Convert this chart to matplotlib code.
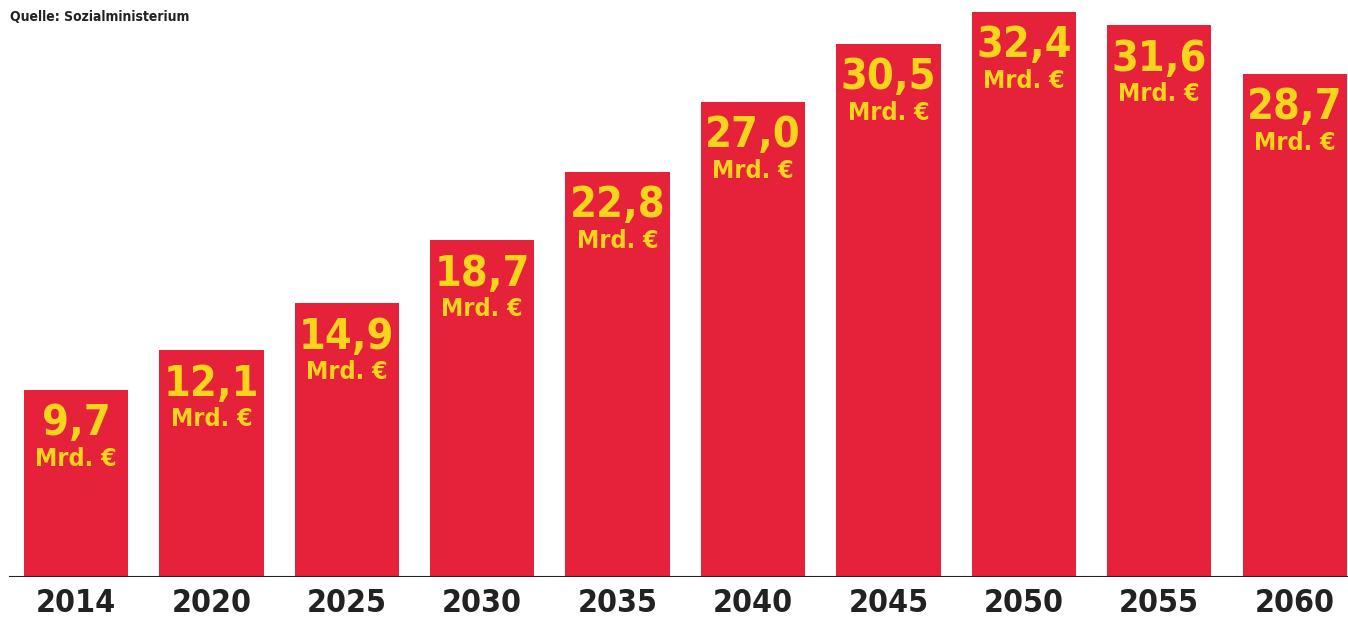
import matplotlib.pyplot as plt
from matplotlib import font_manager
from matplotlib.font_manager import FontProperties

years = ["2014", "2020", "2025", "2030", "2035", "2040", "2045", "2050", "2055", "2060"]
values = [9.7, 12.1, 14.9, 18.7, 22.8, 27.0, 30.5, 32.4, 31.6, 28.7]
value_labels = ["9,7", "12,1", "14,9", "18,7", "22,8", "27,0", "30,5", "32,4", "31,6", "28,7"]
unit_label = "Mrd. €"
source = "Quelle: Sozialministerium"

# the printed chart does not start its bars at zero
base = -1.53

# look for the narrowest bold face that is installed
order = {"ultra-condensed": 0, "extra-condensed": 1, "condensed": 2, "semi-condensed": 3}
best = None
for f in font_manager.fontManager.ttflist:
    w = f.weight if isinstance(f.weight, int) else font_manager.weight_dict.get(f.weight, 400)
    if f.stretch in order and 600 <= w <= 800 and "italic" not in f.style and "oblique" not in f.style:
        key = (order[f.stretch], abs(w - 700))
        if best is None or key < best[0]:
            best = (key, f)
if best is not None:
    fp = FontProperties(fname=best[1].fname)
else:
    fp = FontProperties(family="DejaVu Sans", stretch="condensed", weight="bold")

red = "#e6213a"
yellow = "#f8d41c"
dark = "#222222"

fig = plt.figure(figsize=(13.48, 6.22), dpi=100)
ax = fig.add_axes([0, 45 / 622, 1, 1 - 45 / 622])

x = list(range(len(years)))
heights = [v - base for v in values]
ax.bar(x, heights, bottom=base, width=0.77, color=red, edgecolor="none")

ax.set_xlim(-0.561, 9.394)
ax.set_ylim(base, 33.12)
ax.axhline(base, xmin=10 / 1348, xmax=1, color=dark, lw=1.5)

for i, v in enumerate(values):
    ax.annotate(value_labels[i], xy=(i, v), xytext=(0, -9), textcoords="offset points",
                ha="center", va="top", fontproperties=fp, fontsize=31, color=yellow)
    ax.annotate(unit_label, xy=(i, v), xytext=(0, -41), textcoords="offset points",
                ha="center", va="top", fontproperties=fp, fontsize=18, color=yellow)
    ax.annotate(years[i], xy=(i, base), xytext=(0, -8), textcoords="offset points",
                ha="center", va="top", fontproperties=fp, fontsize=23, color=dark,
                annotation_clip=False)

fig.text(10 / 1348, 1 - 10 / 622, source, ha="left", va="top", fontproperties=fp,
         fontsize=10, color=dark)

ax.axis("off")
fig.savefig("out.png", dpi=100)
